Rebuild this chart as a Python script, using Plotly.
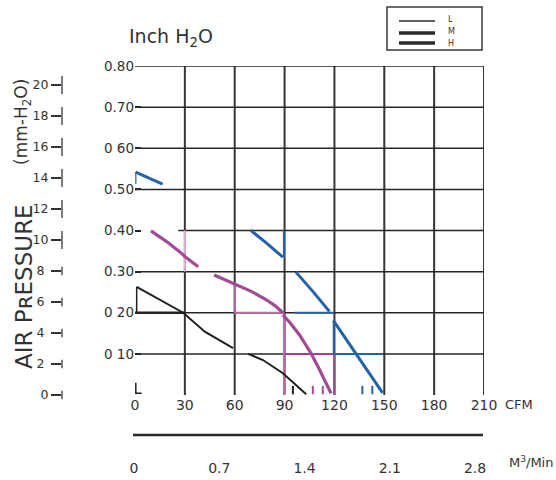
import plotly.graph_objects as go

W, H = 556, 480
FONT = "DejaVu Sans"
TXT = "#333333"
GRID = "#3a3434"

# ---------------- data ----------------
cfm_ticks = [0, 30, 60, 90, 120, 150, 180, 210]
inch_ticks = [0.1, 0.2, 0.3, 0.4, 0.5, 0.6, 0.7, 0.8]
inch_text = ["0 10", "0 20", "0.30", "0.40", "0.50", "0 60", "0.70", "0.80"]
mm_ticks = [0, 2, 4, 6, 8, 10, 12, 14, 16, 18, 20]
mm_text = ["0", "2\u00a0", "4\u00a0", "6\u00a0", "8\u00a0", "10", "12", "14", "16", "18", "20"]
m3_ticks = [0, 0.7, 1.4, 2.1, 2.8]
m3_text = ["0", "0.7", "1.4", "2.1", "2.8"]

# H curve (blue) pieces
h_a_x = [0.4, 16.6];              h_a_y = [0.542, 0.513]
h_a2_x = [0.5, 0.5];              h_a2_y = [0.513, 0.542]
h_b_x = [69.4, 79, 89];           h_b_y = [0.401, 0.370, 0.335]
h_b2_x = [89.6, 89.6];            h_b2_y = [0.335, 0.400]
h_c_x = [96.6, 107, 117];         h_c_y = [0.300, 0.252, 0.203]
h_c2_x = [96, 119.6];             h_c2_y = [0.200, 0.200]
h_d_x = [119.4, 134, 149];        h_d_y = [0.181, 0.095, 0.005]
h_d2_x = [119.6, 119.6, 149];     h_d2_y = [0.181, 0.100, 0.100]
h_dots_x = [136.8, 142.8];        h_dots_y = [0.012, 0.012]

# M curve (purple) pieces
m_a_x = [9.6, 19, 27, 30, 38]
m_a_y = [0.399, 0.373, 0.348, 0.337, 0.312]
m_a2_x = [30, 30];                            m_a2_y = [0.300, 0.400]
m_b_x = [47.6, 60, 70, 78, 84, 89]
m_b_y = [0.292, 0.270, 0.252, 0.234, 0.218, 0.200]
m_b2_x = [60, 60, 90];                        m_b2_y = [0.270, 0.200, 0.200]
m_c_x = [89, 94, 99, 103, 106, 110, 114, 118]
m_c_y = [0.195, 0.172, 0.146, 0.120, 0.101, 0.070, 0.037, 0.004]
m_c2_x = [89.6, 89.6];                        m_c2_y = [0.195, 0.0]
m_c3_x = [90, 120, 120];                      m_c3_y = [0.100, 0.100, 0.0]
m_dots_x = [107, 113];                        m_dots_y = [0.012, 0.012]

# L curve (black) pieces
l_a_x = [1, 29, 42, 59];          l_a_y = [0.263, 0.200, 0.154, 0.114]
l_a2_x = [1, 1];                  l_a2_y = [0.263, 0.200]
l_a3_x = [0, 30];                 l_a3_y = [0.200, 0.200]
l_b_x = [68, 77, 89, 103];        l_b_y = [0.100, 0.085, 0.053, 0.002]
l_c_x = [0.5, 0.5, 4];            l_c_y = [0.030, 0.004, 0.004]
l_dots_x = [95];                  l_dots_y = [0.012]

BLUE = "#2563a3"
PURP = "#a04b93"
PINK_L = "#e2b0d8"
BLACK = "#231f1f"

fig = go.Figure()

def seg(x, y, color, width):
    fig.add_trace(go.Scatter(x=x, y=y, mode="lines", xaxis="x", yaxis="y",
                             line=dict(color=color, width=width),
                             hoverinfo="skip", showlegend=False))

def ticks(x, y, color):
    fig.add_trace(go.Scatter(x=x, y=y, mode="markers", xaxis="x", yaxis="y",
                             hoverinfo="skip", showlegend=False,
                             marker=dict(symbol="line-ns", size=6, color=color,
                                         line=dict(color=color, width=2))))

# grid overlay pieces (thin)
seg(m_a2_x, m_a2_y, PINK_L, 2)
seg(m_b2_x, m_b2_y, "#b868ac", 2)
seg(m_c2_x, m_c2_y, "#c070b4", 2)
seg(m_c3_x, m_c3_y, "#97468b", 2)
seg(h_a2_x, h_a2_y, BLUE, 1.2)
seg(h_b2_x, h_b2_y, BLUE, 2)
seg(h_c2_x, h_c2_y, BLUE, 2)
seg(h_d2_x, h_d2_y, BLUE, 2)
seg(l_a2_x, l_a2_y, BLACK, 1.5)
seg(l_a3_x, l_a3_y, BLACK, 2.5)
seg(l_c_x, l_c_y, BLACK, 1.5)

# curves
seg(h_a_x, h_a_y, BLUE, 3)
seg(h_b_x, h_b_y, BLUE, 3)
seg(h_c_x, h_c_y, BLUE, 3)
seg(h_d_x, h_d_y, BLUE, 3)
seg(m_a_x, m_a_y, PURP, 3.2)
seg(m_b_x, m_b_y, PURP, 3.2)
seg(m_c_x, m_c_y, PURP, 3.2)
seg(l_a_x, l_a_y, BLACK, 2)
seg(l_b_x, l_b_y, BLACK, 2)
ticks(h_dots_x, h_dots_y, BLUE)
ticks(m_dots_x, m_dots_y, PURP)
ticks(l_dots_x, l_dots_y, BLACK)

# mm-H2O axis bars (own small subplot x3/y2)
bar_sizes = [6, 6, 6, 6, 6, 13, 13, 13, 13, 13, 13]
fig.add_trace(go.Scatter(x=[0] * len(mm_ticks), y=mm_ticks, mode="markers",
                         xaxis="x3", yaxis="y2", cliponaxis=False,
                         hoverinfo="skip", showlegend=False,
                         marker=dict(symbol="line-ns", size=bar_sizes, color=TXT,
                                     line=dict(color=TXT, width=1.8))))
# anchor trace for the m3/min axis (own subplot x2/y3)
fig.add_trace(go.Scatter(x=[0, 2.8], y=[0, 0], xaxis="x2", yaxis="y3",
                         mode="markers", marker=dict(size=1, opacity=0),
                         hoverinfo="skip", showlegend=False))

shapes = []
for v in cfm_ticks[1:]:
    shapes.append(dict(type="line", xref="x", yref="y", x0=v, x1=v, y0=-0.012, y1=0.8,
                       line=dict(color=GRID, width=2), layer="below"))
for v in inch_ticks:
    x0 = 26 if abs(v - 0.4) < 1e-9 else 0
    shapes.append(dict(type="line", xref="x", yref="y", x0=x0, x1=210, y0=v, y1=v,
                       line=dict(color="#2a2525", width=1.5), layer="below"))
# m3/min separator line
shapes.append(dict(type="line", xref="paper", yref="paper", x0=133 / W, x1=483 / W,
                   y0=1 - 435 / H, y1=1 - 435 / H, line=dict(color="#2a2626", width=2.5)))
# legend box
shapes.append(dict(type="rect", xref="paper", yref="paper", x0=387 / W, x1=482 / W,
                   y0=1 - 50 / H, y1=1 - 7 / H, line=dict(color="#3a3a3a", width=1.5)))
for yy, ww in [(21, 1.5), (33, 3.5), (43, 3.5)]:
    shapes.append(dict(type="line", xref="paper", yref="paper", x0=399 / W, x1=435 / W,
                       y0=1 - yy / H, y1=1 - yy / H, line=dict(color="#2e2a2a", width=ww)))

ann = []
def text(t, x, y, size, xanchor="left", yanchor="middle", angle=0):
    ann.append(dict(text=t, x=x / W, y=1 - y / H, xref="paper", yref="paper",
                    showarrow=False, xanchor=xanchor, yanchor=yanchor, textangle=angle,
                    font=dict(family=FONT, size=size, color=TXT)))

for lab, yy in [("L", 20), ("M", 32), ("H", 43)]:
    text(lab, 446, yy, 8)
text("Inch H<sub>2</sub>O", 127, 38, 19)
text("CFM", 503, 404, 13)
text("M<sup>3</sup>/Min", 507, 462, 13)
text("AIR PʀESSURE", 24, 287, 23, xanchor="center", angle=-90)
text("(mm-H<sub>2</sub>O)", 22, 122, 17, xanchor="center", angle=-90)

NOAM = dict(automargin=False)
fig.update_layout(
    width=W, height=H, margin=dict(l=0, r=0, t=0, b=0, autoexpand=False),
    paper_bgcolor="white", plot_bgcolor="white",
    showlegend=False, shapes=shapes, annotations=ann,
    font=dict(family=FONT, color=TXT),
    xaxis=dict(domain=[135 / W, 484 / W], range=[0, 210], tickvals=cfm_ticks,
               ticktext=[str(v) for v in cfm_ticks], showgrid=False, zeroline=False,
               showline=False, ticks="", anchor="free", position=1 - 395 / H,
               tickfont=dict(family=FONT, size=14, color=TXT), **NOAM),
    yaxis=dict(domain=[1 - 395 / H, 1 - 66 / H], range=[0, 0.8], tickvals=inch_ticks,
               ticktext=inch_text, showgrid=False, zeroline=False, showline=False,
               ticks="inside", ticklen=6, tickwidth=1.5, tickcolor="#2a2525",
               tickfont=dict(family=FONT, size=13.5, color=TXT), anchor="x", **NOAM),
    xaxis2=dict(domain=[134 / W, 475 / W], range=[0, 2.8], tickvals=m3_ticks,
                ticktext=m3_text, showgrid=False, zeroline=False, showline=False,
                ticks="", anchor="y3",
                tickfont=dict(family=FONT, size=14, color=TXT), **NOAM),
    yaxis3=dict(domain=[1 - 458 / H, 1 - 450 / H], range=[-1, 1], visible=False,
                anchor="x2", **NOAM),
    xaxis3=dict(domain=[62 / W, 70 / W], range=[0, 1], visible=False, anchor="y2", **NOAM),
    yaxis2=dict(domain=[1 - 395 / H, 1 - 85 / H], range=[0, 20], tickvals=mm_ticks,
                ticktext=mm_text, showgrid=False, zeroline=False, showline=False,
                ticks="outside", ticklen=10, tickwidth=1.8, tickcolor=TXT,
                anchor="x3", side="left",
                tickfont=dict(family=FONT, size=12.5, color=TXT), **NOAM),
)

fig.write_html("out.html", config={"displayModeBar": False},
               post_script="document.body.style.margin='0px';document.body.style.overflow='hidden';")
